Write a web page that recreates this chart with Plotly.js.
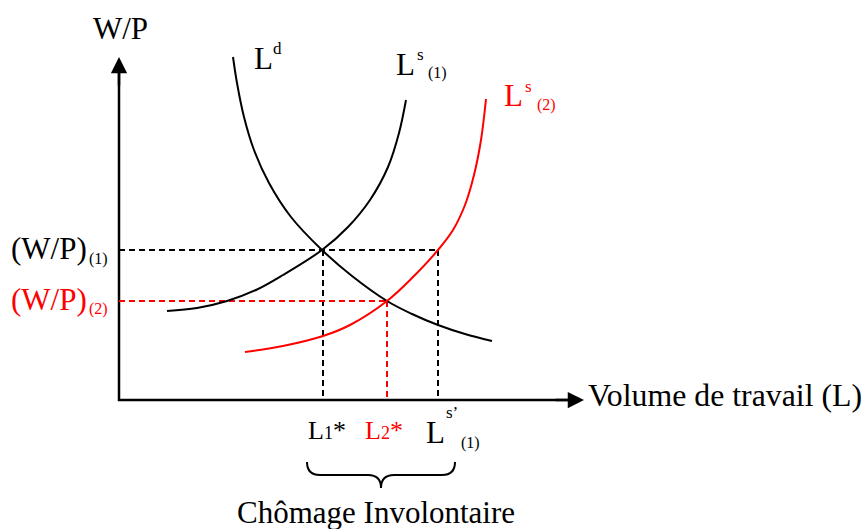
<!DOCTYPE html>
<html>
<head>
<meta charset="utf-8">
<script src="https://cdn.plot.ly/plotly-3.0.1.min.js"></script>
<style>html,body{margin:0;padding:0;background:#fff;}#chart{width:867px;height:529px;}</style>
</head>
<body>
<div id="chart"></div>
<script>
// ---- data (units: x = labour volume, y = real wage W/P; origin at the axes corner) ----
const ldX  = [114, 118, 125, 135, 150, 172, 203, 233, 268, 293, 319, 346, 373];
const ldY  = [343, 317, 283, 250, 217, 183, 150, 124,  99,  86,  75,  66,  59];
const ls1X = [48, 78, 108, 137, 164, 203, 229, 251, 269, 280, 287];
const ls1Y = [89, 92,  99, 110, 125, 150, 173, 200, 233, 267, 300];
const ls2X = [126, 164, 204, 231, 268, 294, 319, 334, 346, 355, 362, 367];
const ls2Y = [ 48,  54,  64,  75,  99, 123, 150, 170, 195, 225, 260, 301];
const wageLevels = [150, 99];          // (W/P)(1), (W/P)(2)
const employment = [204, 268, 319];    // L1*, L2*, Ls'(1)
const axisMax = {x: 465, y: 343};

const FONT = "Liberation Serif, 'Times New Roman', serif";
const BLACK = '#000000', RED = '#ff0000';
const OX = 119, OY = 400; // pixel position of axes corner in the 867x529 canvas

const dash = {width: 2, dash: '6px,4px'};
const curve = {width: 2, shape: 'spline', smoothing: 1};
const traces = [
  // axes body
  {x: [0, 0, axisMax.x - 10], y: [axisMax.y - 10, 0, 0], mode: 'lines',
   line: {color: BLACK, width: 2.5}, hoverinfo: 'skip'},
  // guide lines (1)
  {x: [0, employment[2]], y: [wageLevels[0], wageLevels[0]], mode: 'lines', line: Object.assign({color: BLACK}, dash), hoverinfo:'skip'},
  {x: [employment[0], employment[0]], y: [wageLevels[0], 0], mode: 'lines', line: Object.assign({color: BLACK}, dash), hoverinfo:'skip'},
  {x: [employment[2], employment[2]], y: [wageLevels[0], 0], mode: 'lines', line: Object.assign({color: BLACK}, dash), hoverinfo:'skip'},
  // guide lines (2)
  {x: [0, employment[1]], y: [wageLevels[1], wageLevels[1]], mode: 'lines', line: Object.assign({color: RED}, dash), hoverinfo:'skip'},
  {x: [employment[1], employment[1]], y: [wageLevels[1], 0], mode: 'lines', line: Object.assign({color: RED}, dash), hoverinfo:'skip'},
  // curves
  {x: ldX, y: ldY, mode: 'lines', line: Object.assign({color: BLACK}, curve), hoverinfo:'skip'},
  {x: ls1X, y: ls1Y, mode: 'lines', line: Object.assign({color: BLACK}, curve), hoverinfo:'skip'},
  {x: ls2X, y: ls2Y, mode: 'lines', line: Object.assign({color: RED}, curve), hoverinfo:'skip'}
];

// text helper: pixel-based placement (left x / centre y) converted to axis units
function t(text, px, py, size, color, anchor) {
  return {xref: 'x', yref: 'y', x: px - OX, y: OY - py, text: text, showarrow: false,
          xanchor: anchor || 'left', yanchor: 'middle', borderpad: 0,
          font: {family: FONT, size: size, color: color || BLACK}};
}
const small = s => `<span style="font-size:18px">${s}</span>`;

const annotations = [
  // axis arrowheads
  {xref:'x', yref:'y', axref:'x', ayref:'y', x: 0, y: axisMax.y, ax: 0, ay: axisMax.y - 30,
   text: '', showarrow: true, arrowhead: 2, arrowsize: 1.3, arrowwidth: 2.5, arrowcolor: BLACK},
  {xref:'x', yref:'y', axref:'x', ayref:'y', x: axisMax.x, y: 0, ax: axisMax.x - 30, ay: 0,
   text: '', showarrow: true, arrowhead: 2, arrowsize: 1.3, arrowwidth: 2.5, arrowcolor: BLACK},
  t('W/P', 120, 28, 31, BLACK, 'center'),
  t('Volume de travail (L)', 587, 395, 31.8),
  // Ld
  t('L', 253, 58, 31), t('d', 272, 48, 17),
  // Ls(1)
  t('L', 395, 64, 31), t('s', 416, 54, 17), t('(1)', 427, 73, 16),
  // Ls(2)
  t('L', 503, 95, 31, RED), t('s', 524, 86, 17, RED), t('(2)', 536, 105, 16, RED),
  // wage labels
  t('(W/P)', 10, 248, 31), t('(1)', 88, 259, 16),
  t('(W/P)', 10, 299, 31, RED), t('(2)', 88, 309, 16, RED),
  // employment labels
  t('L' + small('1') + '*', 307, 430, 26),
  t('L' + small('2') + '*', 364, 430, 26, RED),
  t('L', 425, 432, 31), t('s\u2019', 445, 412, 17), t('(1)', 460, 443, 16),
  t('Chômage Involontaire', 376, 512, 31, BLACK, 'center')
];

// curly brace under L1* .. Ls'(1)
const bl = employment[0] - 16, br = employment[2] + 17, bm = (bl + br) / 2;
const yTop = -62, yMid = -75, yTip = -88, r = 13;
const bracePath = `M${bl},${yTop} Q${bl},${yMid} ${bl + r},${yMid} L${bm - r},${yMid} Q${bm},${yMid} ${bm},${yTip} ` +
                  `Q${bm},${yMid} ${bm + r},${yMid} L${br - r},${yMid} Q${br},${yMid} ${br},${yTop}`;

const layout = {
  width: 867, height: 529,
  margin: {l: 0, r: 0, t: 0, b: 0},
  paper_bgcolor: '#ffffff', plot_bgcolor: '#ffffff',
  showlegend: false,
  xaxis: {range: [-OX, 867 - OX], visible: false, fixedrange: true},
  yaxis: {range: [OY - 529, OY], visible: false, fixedrange: true},
  annotations: annotations,
  shapes: [{type: 'path', xref: 'x', yref: 'y', path: bracePath, line: {color: BLACK, width: 2}}]
};

Plotly.newPlot('chart', traces, layout, {staticPlot: true, displayModeBar: false});
</script>
</body>
</html>
